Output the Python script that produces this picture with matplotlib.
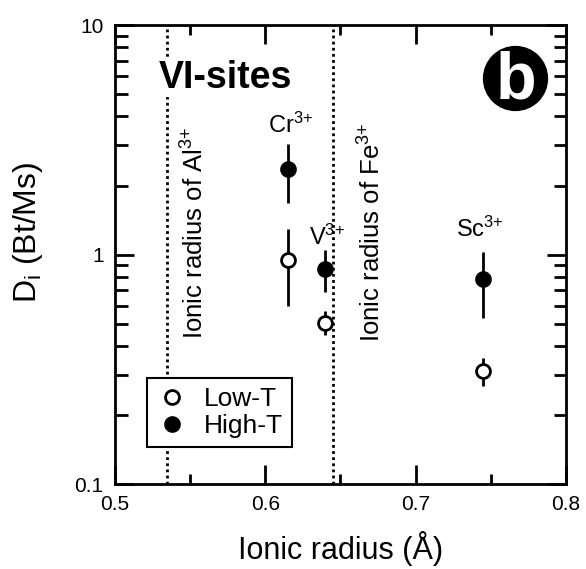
import numpy as np
import matplotlib.pyplot as plt
from matplotlib.lines import Line2D
from matplotlib.ticker import FixedLocator, NullFormatter

plt.rcParams['font.family'] = ['Liberation Sans', 'DejaVu Sans']
plt.rcParams['mathtext.fontset'] = 'custom'
plt.rcParams['mathtext.rm'] = 'Liberation Sans'
plt.rcParams['mathtext.it'] = 'Liberation Sans:italic'

# data
ions = ['Cr$^{3{+}}$', 'V$^{3{+}}$', 'Sc$^{3{+}}$']
radius = [0.615, 0.640, 0.745]
low_T = [0.95, 0.505, 0.312]
low_T_lo = [0.60, 0.445, 0.267]
low_T_hi = [1.29, 0.57, 0.353]
high_T = [2.36, 0.87, 0.78]
high_T_lo = [1.68, 0.69, 0.53]
high_T_hi = [3.03, 1.05, 1.03]
r_Al = 0.535
r_Fe = 0.645

fig = plt.figure(figsize=(5.86, 5.69), dpi=100)
ax = fig.add_axes([0.196, 0.149, 0.770, 0.807])

low_T = np.array(low_T); high_T = np.array(high_T)
err_low = [low_T - np.array(low_T_lo), np.array(low_T_hi) - low_T]
err_high = [high_T - np.array(high_T_lo), np.array(high_T_hi) - high_T]

ax.axvline(r_Al, color='k', ls=(0, (1, 1.2)), lw=2, zorder=1)
ax.axvline(r_Fe, color='k', ls=(0, (1, 1.2)), lw=2, zorder=1)

ax.errorbar(radius, low_T, yerr=err_low, fmt='o', mfc='white', mec='k', mew=2,
            ms=10, ecolor='k', elinewidth=2, capsize=0, zorder=3)
ax.errorbar(radius, high_T, yerr=err_high, fmt='o', mfc='k', mec='k', mew=2,
            ms=10, ecolor='k', elinewidth=2, capsize=0, zorder=3)

ax.set_yscale('log')
ax.set_xlim(0.5, 0.8)
ax.set_ylim(0.1, 10)
ax.xaxis.set_major_locator(FixedLocator([0.5, 0.6, 0.7, 0.8]))
ax.xaxis.set_minor_locator(FixedLocator([0.55, 0.65, 0.75]))
ax.set_xticklabels(['0.5', '0.6', '0.7', '0.8'])
ax.yaxis.set_major_locator(FixedLocator([0.1, 1, 10]))
ax.set_yticklabels(['0.1', '1', '10'])
ax.yaxis.set_minor_formatter(NullFormatter())
ax.tick_params(which='both', direction='in', top=True, right=True, width=2,
               labelsize=15, pad=8)
ax.tick_params(which='major', length=14)
ax.tick_params(which='minor', length=7)
ax.tick_params(axis='y', which='minor', length=9)
for s in ax.spines.values():
    s.set_linewidth(2)

ax.set_xlabel('Ionic radius (Å)', fontsize=22, labelpad=12)
ax.set_ylabel('D$_\\mathregular{i}$ (Bt/Ms)', fontsize=23)
ax.yaxis.set_label_coords(-0.155, 0.549)

# ion labels
ax.text(0.617, 3.38, ions[0], fontsize=17, ha='center', va='baseline')
ax.text(0.641, 1.10, ions[1], fontsize=17, ha='center', va='baseline')
ax.text(0.743, 1.20, ions[2], fontsize=17, ha='center', va='baseline')

ax.text(0.553, 1.25, 'Ionic radius of Al$^{3{+}}$', rotation=90, fontsize=18.5,
        ha='center', va='center')
ax.text(0.671, 1.25, 'Ionic radius of Fe$^{3{+}}$', rotation=90, fontsize=18.5,
        ha='center', va='center')

ax.text(0.098, 0.885, 'VI-sites', transform=ax.transAxes, fontsize=27,
        fontweight='bold', ha='left', va='center', zorder=4,
        bbox=dict(fc='white', ec='none', pad=1))

# panel badge
ax.plot(0.887, 0.885, 'o', ms=46, color='k', transform=ax.transAxes,
        clip_on=False, zorder=5)
ax.text(0.889, 0.878, 'b', transform=ax.transAxes, fontsize=48, fontweight='bold',
        color='white', ha='center', va='center', zorder=6)

handles = [Line2D([], [], ls='none', marker='o', ms=10, mfc='white', mec='k', mew=2),
           Line2D([], [], ls='none', marker='o', ms=10, mfc='k', mec='k', mew=2)]
leg = ax.legend(handles, ['Low-T', 'High-T'], loc='lower left',
                bbox_to_anchor=(0.071, 0.081), borderaxespad=0, fontsize=19,
                frameon=True, fancybox=False, edgecolor='k', framealpha=1,
                handletextpad=0.6, handlelength=1.2, borderpad=0.35,
                labelspacing=0.1)
leg.get_frame().set_linewidth(1.5)
leg.set_zorder(6)

fig.savefig('out.png', dpi=100)
